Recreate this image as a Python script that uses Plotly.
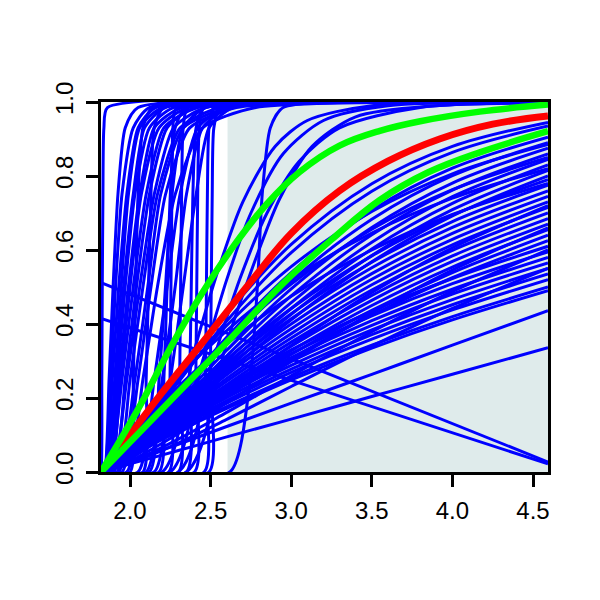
import plotly.graph_objects as go

# ---------------- data ----------------
X_MIN = 1.82
X_MAX = 4.593
SHADE_X0 = 2.605

x_ticks = [2.0, 2.5, 3.0, 3.5, 4.0, 4.5]
x_tick_text = ["2.0", "2.5", "3.0", "3.5", "4.0", "4.5"]
y_ticks = [0.0, 0.2, 0.4, 0.6, 0.8, 1.0]
y_tick_text = ["0.0", "0.2", "0.4", "0.6", "0.8", "1.0"]

# fan of curves starting at the origin, y read at common x positions
fan_x = [1.82, 2.0, 2.3, 2.6, 3.0, 3.5, 4.0, 4.593]
fan_y = [
    [0, 0.080, 0.256, 0.427, 0.615, 0.779, 0.880, 0.945],
    [0, 0.075, 0.243, 0.408, 0.593, 0.759, 0.864, 0.935],
    [0, 0.065, 0.213, 0.364, 0.539, 0.707, 0.821, 0.905],
    [0, 0.089, 0.250, 0.396, 0.555, 0.704, 0.806, 0.885],
    [0, 0.061, 0.201, 0.346, 0.516, 0.683, 0.801, 0.890],
    [0, 0.058, 0.191, 0.329, 0.495, 0.661, 0.781, 0.875],
    [0, 0.055, 0.182, 0.314, 0.476, 0.641, 0.762, 0.860],
    [0, 0.079, 0.223, 0.357, 0.508, 0.656, 0.763, 0.850],
    [0, 0.052, 0.173, 0.301, 0.458, 0.621, 0.744, 0.845],
    [0, 0.049, 0.165, 0.288, 0.442, 0.603, 0.726, 0.830],
    [0, 0.105, 0.257, 0.382, 0.519, 0.646, 0.740, 0.820],
    [0, 0.047, 0.158, 0.277, 0.426, 0.585, 0.709, 0.815],
    [0, 0.045, 0.151, 0.266, 0.411, 0.568, 0.692, 0.800],
    [0, 0.065, 0.188, 0.305, 0.442, 0.584, 0.694, 0.790],
    [0, 0.093, 0.231, 0.346, 0.475, 0.600, 0.696, 0.780],
    [0, 0.062, 0.180, 0.294, 0.428, 0.567, 0.677, 0.775],
    [0, 0.060, 0.173, 0.283, 0.414, 0.552, 0.661, 0.760],
    [0, 0.057, 0.166, 0.272, 0.400, 0.536, 0.645, 0.745],
    [0, 0.055, 0.160, 0.263, 0.387, 0.521, 0.629, 0.730],
    [0, 0.036, 0.122, 0.217, 0.342, 0.485, 0.606, 0.720],
    [0, 0.053, 0.154, 0.253, 0.374, 0.506, 0.614, 0.715],
    [0, 0.051, 0.148, 0.245, 0.362, 0.492, 0.599, 0.700],
    [0, 0.049, 0.143, 0.236, 0.351, 0.477, 0.584, 0.685],
    [0, 0.047, 0.137, 0.227, 0.340, 0.464, 0.569, 0.670],
    [0, 0.030, 0.104, 0.187, 0.299, 0.430, 0.546, 0.660],
    [0, 0.045, 0.132, 0.220, 0.328, 0.450, 0.554, 0.655],
    [0, 0.043, 0.127, 0.212, 0.318, 0.437, 0.539, 0.640],
    [0, 0.041, 0.122, 0.205, 0.307, 0.424, 0.525, 0.625],
    [0, 0.059, 0.150, 0.233, 0.330, 0.435, 0.523, 0.610],
    [0, 0.026, 0.089, 0.161, 0.260, 0.379, 0.488, 0.600],
    [0, 0.057, 0.145, 0.224, 0.320, 0.422, 0.509, 0.595],
    [0, 0.055, 0.139, 0.216, 0.309, 0.409, 0.494, 0.580],
    [0, 0.053, 0.134, 0.209, 0.299, 0.396, 0.481, 0.565],
    [0, 0.023, 0.078, 0.142, 0.231, 0.340, 0.442, 0.550],
    [0, 0.051, 0.129, 0.201, 0.288, 0.384, 0.466, 0.550],
    [0, 0.049, 0.124, 0.193, 0.278, 0.371, 0.452, 0.535],
    [0, 0.047, 0.119, 0.186, 0.269, 0.359, 0.438, 0.520],
    [0, 0.044, 0.113, 0.177, 0.256, 0.343, 0.420, 0.500],
    [0, 0.043, 0.110, 0.172, 0.249, 0.335, 0.411, 0.490],
    [0, 0.028, 0.075, 0.123, 0.186, 0.264, 0.343, 0.436],
    [0, 0.022, 0.058, 0.095, 0.143, 0.204, 0.264, 0.336],
]

# steep curves: x where each curve crosses the given y levels
steep_levels = [0.0, 0.0, 0.25, 0.5, 0.75, 0.93, 0.985, 0.998]
steep_x = [
    [1.822, 1.825, 1.828, 1.832, 1.838, 1.86],
    [1.84, 1.87, 1.895, 1.925, 1.97, 2.05],
    [1.84, 1.88, 1.91, 1.95, 2.02, 2.12],
    [1.85, 1.89, 1.93, 1.98, 2.05, 2.16],
    [1.86, 1.905, 1.945, 1.99, 2.06, 2.20],
    [1.85, 1.91, 1.96, 2.02, 2.09, 2.22],
    [1.87, 1.92, 1.97, 2.03, 2.12, 2.27],
    [1.86, 1.93, 1.99, 2.06, 2.15, 2.32],
    [1.88, 1.94, 2.00, 2.07, 2.18, 2.36],
    [1.87, 1.95, 2.02, 2.10, 2.21, 2.42],
    [1.90, 1.97, 2.04, 2.12, 2.23, 2.40],
    [1.89, 1.98, 2.06, 2.15, 2.27, 2.47],
    [1.92, 2.00, 2.08, 2.17, 2.31, 2.56],
    [1.95, 2.05, 2.13, 2.22, 2.37, 2.66],
    [1.98, 2.08, 2.17, 2.28, 2.45, 2.78],
    [2.24, 2.248, 2.254, 2.26, 2.266, 2.29],
    [2.30, 2.308, 2.314, 2.32, 2.33, 2.36],
    [2.40, 2.408, 2.414, 2.42, 2.43, 2.46],
    [2.46, 2.468, 2.474, 2.48, 2.49, 2.52],
    [2.49, 2.498, 2.504, 2.51, 2.52, 2.56],
    [2.10, 2.20, 2.28, 2.35, 2.45, 2.62],
    [2.05, 2.15, 2.23, 2.31, 2.42, 2.60],
    [2.15, 2.25, 2.33, 2.41, 2.49, 2.64],
    [1.93, 2.03, 2.11, 2.19, 2.33, 2.62],
    [2.12, 2.18, 2.22, 2.26, 2.33, 2.47],
    [2.62, 2.745, 2.79, 2.82, 2.87, 2.95],
    [2.08, 2.10, 2.115, 2.13, 2.15, 2.21],
    [2.35, 2.37, 2.38, 2.39, 2.41, 2.46],
    [2.00, 2.02, 2.035, 2.05, 2.08, 2.14],
    [2.18, 2.21, 2.23, 2.25, 2.28, 2.35],
]

# arcs that cross above the upper green curve
arc_x = [
    [1.82, 2.25, 2.45, 2.60, 2.75, 2.95, 3.20, 3.60, 4.593],
    [1.82, 2.30, 2.50, 2.68, 2.85, 3.05, 3.30, 3.80, 4.593],
    [1.82, 2.20, 2.40, 2.55, 2.70, 2.90, 3.10, 3.50, 4.593],
    [1.82, 2.35, 2.60, 2.80, 2.93, 3.13, 3.40, 3.90, 4.593],
]
arc_y = [
    [0, 0, 0.30, 0.52, 0.70, 0.86, 0.95, 0.99, 0.998],
    [0, 0, 0.28, 0.52, 0.70, 0.84, 0.93, 0.985, 0.998],
    [0, 0, 0.33, 0.55, 0.73, 0.88, 0.95, 0.99, 0.998],
    [0, 0, 0.35, 0.60, 0.74, 0.88, 0.96, 0.99, 0.998],
]

# two falling straight lines
fall_x = [1.82, 4.593]
fall_y = [
    [0.512, 0.027],
    [0.415, 0.022],
]

# summary curves
red_x = [1.94, 2.2, 2.45, 2.76, 3.0, 3.3, 3.6, 3.92, 4.25, 4.593]
red_y = [0.065, 0.215, 0.35, 0.52, 0.645, 0.76, 0.84, 0.90, 0.94, 0.962]
green_hi_x = [1.82, 2.05, 2.25, 2.45, 2.65, 2.85, 3.05, 3.3, 3.55, 3.8, 4.17, 4.593]
green_hi_y = [0.0, 0.17, 0.335, 0.485, 0.615, 0.725, 0.81, 0.882, 0.922, 0.948, 0.974, 0.993]
green_lo_x = [1.82, 2.2, 2.6, 2.95, 3.25, 3.55, 3.85, 4.17, 4.593]
green_lo_y = [0.0, 0.17, 0.35, 0.51, 0.628, 0.735, 0.81, 0.864, 0.921]

# ---------------- styles ----------------
BLUE = "#0000FF"
RED = "#FF0000"
GREEN = "#00FF00"
SHADE = "#DFEBEB"
FONT = "Liberation Sans, Arial, Helvetica, sans-serif"

fig = go.Figure()


def add_blue(xs, ys, smooth=0.8):
    fig.add_trace(go.Scatter(x=xs, y=ys, mode="lines",
                             line=dict(color=BLUE, width=3, shape="spline", smoothing=smooth),
                             hoverinfo="skip", showlegend=False))


for ys in fan_y:
    add_blue(fan_x, ys, 1.0)

for xs in steep_x:
    add_blue([X_MIN] + xs + [X_MAX], steep_levels, 0.6)

for xs, ys in zip(arc_x, arc_y):
    add_blue(xs, ys, 0.8)

for ys in fall_y:
    fig.add_trace(go.Scatter(x=fall_x, y=ys, mode="lines",
                             line=dict(color=BLUE, width=3),
                             hoverinfo="skip", showlegend=False))

fig.add_trace(go.Scatter(x=red_x, y=red_y, mode="lines",
                         line=dict(color=RED, width=7, shape="spline", smoothing=1.1),
                         hoverinfo="skip", showlegend=False))
fig.add_trace(go.Scatter(x=green_hi_x, y=green_hi_y, mode="lines",
                         line=dict(color=GREEN, width=6.5, shape="spline", smoothing=1.1),
                         hoverinfo="skip", showlegend=False))
fig.add_trace(go.Scatter(x=green_lo_x, y=green_lo_y, mode="lines",
                         line=dict(color=GREEN, width=6.5, shape="spline", smoothing=1.1),
                         hoverinfo="skip", showlegend=False))

fig.add_shape(type="rect", xref="x", yref="y", x0=SHADE_X0, x1=X_MAX, y0=0, y1=1,
              fillcolor=SHADE, line=dict(width=0), layer="below")

axis_common = dict(
    showgrid=False, zeroline=False, showline=True, linecolor="black", linewidth=2.5,
    mirror=True, ticks="outside", ticklen=12, tickwidth=2.5, tickcolor="black",
    automargin=False,
    tickfont=dict(family=FONT, size=24, color="black"),
)

fig.update_xaxes(range=[X_MIN, X_MAX], tickmode="array", tickvals=x_ticks,
                 ticktext=x_tick_text, ticklabelstandoff=3, **axis_common)
fig.update_yaxes(range=[0, 1], tickmode="array", tickvals=y_ticks,
                 ticktext=y_tick_text, tickangle=-90, ticklabelstandoff=4, **axis_common)

fig.update_layout(
    template="none",
    width=592, height=592, autosize=False,
    margin=dict(l=93, r=52, t=94, b=128, pad=0),
    paper_bgcolor="white", plot_bgcolor="white",
    showlegend=False,
)

fig.write_html("out.html")
